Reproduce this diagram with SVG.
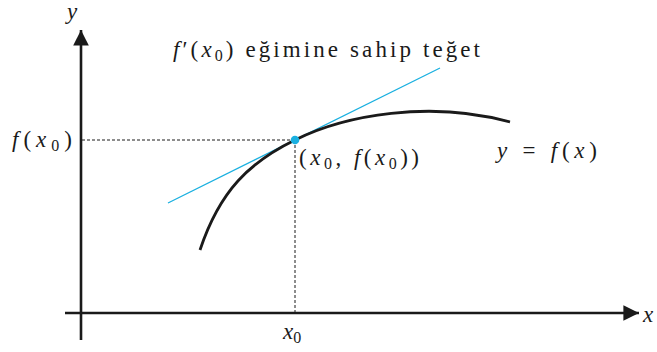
<svg xmlns="http://www.w3.org/2000/svg" width="657" height="352" viewBox="0 0 657 352">
<style>
text{fill:#1a1a1a}
.i{font-style:italic}
.ax{stroke:#1a1a1a;stroke-width:2.6;fill:none}
.dash{stroke:#1a1a1a;stroke-width:1;stroke-dasharray:3,2;fill:none}
</style>
<defs>
<marker id="ah" viewBox="0 0 10 10" refX="10" refY="5" markerWidth="6" markerHeight="6" markerUnits="strokeWidth" orient="auto">
<path d="M0,0 L10,5 L0,10 Z" fill="#1a1a1a"/>
</marker>
</defs>
<g id="connectors">
<line class="ax" x1="81" y1="340" x2="81" y2="30" marker-end="url(#ah)"/>
<line class="ax" x1="65" y1="313" x2="639" y2="313" marker-end="url(#ah)"/>
<line class="dash" x1="82" y1="140" x2="295" y2="140"/>
<line class="dash" x1="295" y1="140" x2="295" y2="312"/>
<line x1="168" y1="203" x2="440" y2="68" stroke="#1ab0e0" stroke-width="1.3"/>
<path d="M200,250 C220,190 250,162 295,140 C345,115 430,100 510,122" stroke="#1a1a1a" stroke-width="2.8" fill="none"/>
</g>
<g id="point"><circle cx="295" cy="140" r="4.3" fill="#1ab0e0"/></g>
<g id="labels" font-family="Liberation Serif, Times New Roman, serif" font-size="23">
<text class="i" x="67" y="19">y</text>
<text class="i" x="643" y="322">x</text>
<text x="12" y="147" textLength="60" lengthAdjust="spacing"><tspan class="i">f</tspan>(<tspan class="i">x</tspan><tspan font-size="16" dy="4">0</tspan><tspan dy="-4">)</tspan></text>
<text x="283" y="339"><tspan class="i">x</tspan><tspan font-size="16" dy="4">0</tspan></text>
<text x="173" y="57" textLength="307" lengthAdjust="spacing"><tspan class="i">f</tspan>′(<tspan class="i">x</tspan><tspan font-size="16" dy="4">0</tspan><tspan dy="-4">) eğimine sahip teğet</tspan></text>
<text x="299" y="165" textLength="120" lengthAdjust="spacing">(<tspan class="i">x</tspan><tspan font-size="16" dy="4">0</tspan><tspan dy="-4">, </tspan><tspan class="i">f</tspan>(<tspan class="i">x</tspan><tspan font-size="16" dy="4">0</tspan><tspan dy="-4">))</tspan></text>
<text x="497" y="158" textLength="100" lengthAdjust="spacing"><tspan class="i">y</tspan> = <tspan class="i">f</tspan>(<tspan class="i">x</tspan>)</text>
</g>
</svg>
